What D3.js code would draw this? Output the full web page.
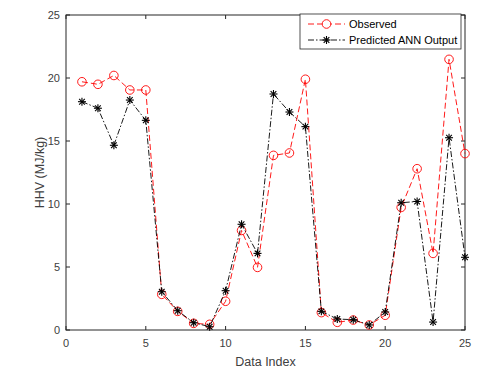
<!DOCTYPE html>
<html>
<head>
<meta charset="utf-8">
<script src="https://cdn.jsdelivr.net/npm/d3@7"></script>
<style>
  body { margin: 0; background: #fff; }
  svg { display: block; font-family: "Liberation Sans", Arial, sans-serif; }
</style>
</head>
<body>
<svg id="chart" width="493" height="377"></svg>
<script>
// values
const dataIndex = d3.range(1, 26);
const observed = [19.7, 19.5, 20.2, 19.05, 19.05, 2.83, 1.48, 0.53, 0.45, 2.28,
                  7.9, 4.97, 13.86, 14.05, 19.9, 1.38, 0.61, 0.79, 0.4, 1.17,
                  9.73, 12.8, 6.08, 21.48, 14.0];
const predicted = [18.12, 17.6, 14.66, 18.25, 16.64, 3.04, 1.53, 0.58, 0.26, 3.12,
                   8.39, 6.08, 18.73, 17.3, 16.14, 1.48, 0.87, 0.82, 0.4, 1.43,
                   10.1, 10.2, 0.63, 15.26, 5.77];
const xTicks = [0, 5, 10, 15, 20, 25];
const yTicks = [0, 5, 10, 15, 20, 25];

const svg = d3.select("#chart");
const margin = { top: 15, right: 28, bottom: 47, left: 66 };
const width = 493, height = 377;

const x = d3.scaleLinear().domain([0, 25]).range([margin.left, width - margin.right]);
const y = d3.scaleLinear().domain([0, 25]).range([height - margin.bottom, margin.top]);

const axisColor = "#262626";
const textColor = "#404040";

// axes box
svg.append("rect")
  .attr("x", x(0)).attr("y", y(25))
  .attr("width", x(25) - x(0)).attr("height", y(0) - y(25))
  .attr("fill", "#fff").attr("stroke", axisColor).attr("stroke-width", 1);

// ticks (inward, on both sides like matlab)
const tickLen = 4;
svg.append("g").selectAll("line").data(xTicks).enter().append("line")
  .attr("x1", d => x(d)).attr("x2", d => x(d))
  .attr("y1", y(0)).attr("y2", y(0) - tickLen)
  .attr("stroke", axisColor);
svg.append("g").selectAll("line").data(xTicks).enter().append("line")
  .attr("x1", d => x(d)).attr("x2", d => x(d))
  .attr("y1", y(25)).attr("y2", y(25) + tickLen)
  .attr("stroke", axisColor);
svg.append("g").selectAll("line").data(yTicks).enter().append("line")
  .attr("x1", x(0)).attr("x2", x(0) + tickLen)
  .attr("y1", d => y(d)).attr("y2", d => y(d))
  .attr("stroke", axisColor);
svg.append("g").selectAll("line").data(yTicks).enter().append("line")
  .attr("x1", x(25)).attr("x2", x(25) - tickLen)
  .attr("y1", d => y(d)).attr("y2", d => y(d))
  .attr("stroke", axisColor);

// tick labels
svg.append("g").selectAll("text").data(xTicks).enter().append("text")
  .attr("x", d => x(d)).attr("y", y(0) + 17)
  .attr("text-anchor", "middle").attr("font-size", 11).attr("fill", textColor)
  .text(d => d);
svg.append("g").selectAll("text").data(yTicks).enter().append("text")
  .attr("x", x(0) - 6).attr("y", d => y(d) + 4)
  .attr("text-anchor", "end").attr("font-size", 11).attr("fill", textColor)
  .text(d => d);

// axis labels
svg.append("text")
  .attr("x", (x(0) + x(25)) / 2).attr("y", 366)
  .attr("text-anchor", "middle").attr("font-size", 12.5).attr("fill", textColor)
  .text("Data Index");
svg.append("text")
  .attr("transform", `translate(44,${(y(0) + y(25)) / 2}) rotate(-90)`)
  .attr("text-anchor", "middle").attr("font-size", 12.5).attr("fill", textColor)
  .text("HHV (MJ/kg)");

const line = d3.line().x((d, i) => x(dataIndex[i])).y(d => y(d));

// observed series
svg.append("path").datum(observed)
  .attr("d", line).attr("fill", "none")
  .attr("stroke", "#ff0000").attr("stroke-width", 0.9)
  .attr("stroke-dasharray", "6,3");
svg.append("g").selectAll("circle").data(observed).enter().append("circle")
  .attr("cx", (d, i) => x(dataIndex[i])).attr("cy", d => y(d))
  .attr("r", 4.3).attr("fill", "none")
  .attr("stroke", "#ff0000").attr("stroke-width", 0.9);

// predicted series
svg.append("path").datum(predicted)
  .attr("d", line).attr("fill", "none")
  .attr("stroke", "#000").attr("stroke-width", 0.9)
  .attr("stroke-dasharray", "6,2,1.5,2");

function star(g, cx, cy, r) {
  const angles = [0, 45, 90, 135];
  angles.forEach(a => {
    const rad = a * Math.PI / 180;
    g.append("line")
      .attr("x1", cx - r * Math.cos(rad)).attr("y1", cy - r * Math.sin(rad))
      .attr("x2", cx + r * Math.cos(rad)).attr("y2", cy + r * Math.sin(rad))
      .attr("stroke", "#000").attr("stroke-width", 1.1);
  });
}
const starG = svg.append("g");
predicted.forEach((d, i) => star(starG, x(dataIndex[i]), y(d), 4));

// legend
const lg = svg.append("g");
lg.append("rect")
  .attr("x", 300).attr("y", 14).attr("width", 161).attr("height", 35)
  .attr("fill", "#fff").attr("stroke", axisColor).attr("stroke-width", 0.8);
lg.append("line")
  .attr("x1", 308).attr("x2", 345).attr("y1", 24).attr("y2", 24)
  .attr("stroke", "#ff0000").attr("stroke-width", 0.9).attr("stroke-dasharray", "6,3");
lg.append("circle")
  .attr("cx", 326.5).attr("cy", 24).attr("r", 4.3)
  .attr("fill", "#fff").attr("stroke", "#ff0000").attr("stroke-width", 0.9);
lg.append("text")
  .attr("x", 349).attr("y", 28).attr("font-size", 11).attr("fill", "#000")
  .text("Observed");
lg.append("line")
  .attr("x1", 308).attr("x2", 345).attr("y1", 40).attr("y2", 40)
  .attr("stroke", "#000").attr("stroke-width", 0.9).attr("stroke-dasharray", "6,2,1.5,2");
star(lg, 326.5, 40, 4);
lg.append("text")
  .attr("x", 349).attr("y", 44).attr("font-size", 11).attr("fill", "#000")
  .text("Predicted ANN Output");
</script>
</body>
</html>
